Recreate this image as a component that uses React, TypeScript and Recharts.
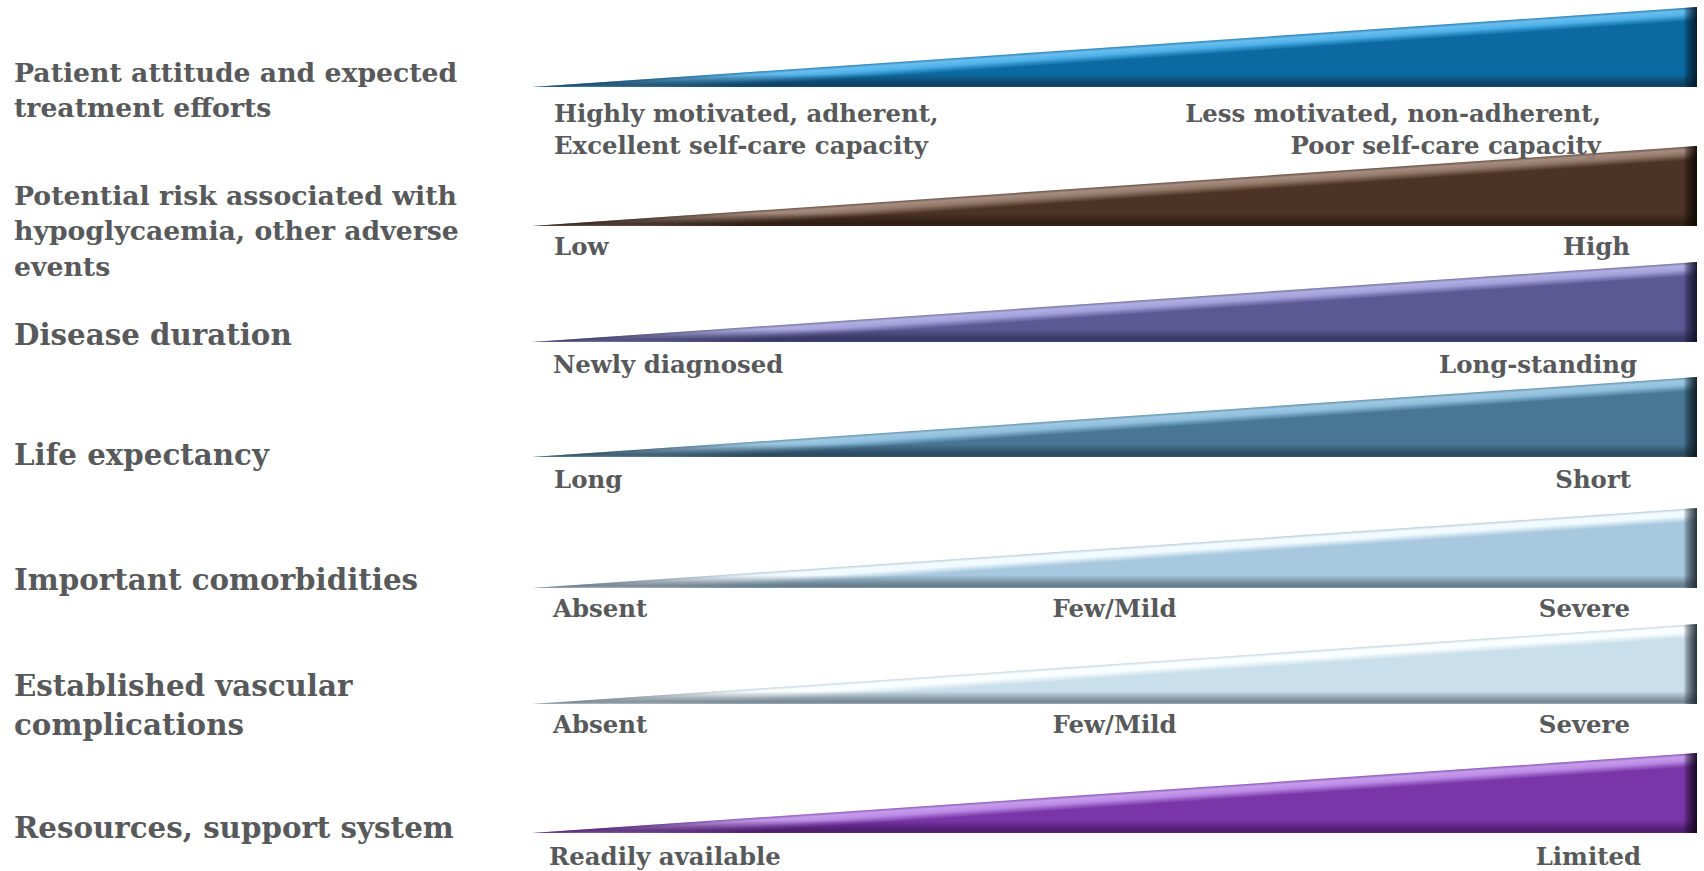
import { AreaChart, Area, XAxis, YAxis } from "recharts";

// factor names shown on the left, one entry per line
const factors = [
  ["Patient attitude and expected", "treatment efforts"],
  ["Potential risk associated with", "hypoglycaemia, other adverse", "events"],
  ["Disease duration"],
  ["Life expectancy"],
  ["Important comorbidities"],
  ["Established vascular", "complications"],
  ["Resources, support system"],
];

const lowLabels = [
  ["Highly motivated, adherent,", "Excellent self-care capacity"],
  ["Low"],
  ["Newly diagnosed"],
  ["Long"],
  ["Absent"],
  ["Absent"],
  ["Readily available"],
];

const midLabels = ["", "", "", "", "Few/Mild", "Few/Mild", ""];

const highLabels = [
  ["Less motivated, non-adherent,", "Poor self-care capacity"],
  ["High"],
  ["Long-standing"],
  ["Short"],
  ["Severe"],
  ["Severe"],
  ["Limited"],
];

// position along each scale and how stringent the approach is there
const scalePos = [0, 1];
const scaleLevel = [0, 1];

const palette = [
  { body: "#0b6aa2", hi: "#4fb2ea", edge: "#2a7fb4", dark: "#12324a", rim: "#03182a" },
  { body: "#4d3325", hi: "#94796a", edge: "#6a5244", dark: "#24160e", rim: "#0f0804" },
  { body: "#5b5893", hi: "#a3a0dc", edge: "#77749f", dark: "#2e2c55", rim: "#12112a" },
  { body: "#477795", hi: "#8ebfdd", edge: "#6592ad", dark: "#22394a", rim: "#0c1922" },
  { body: "#a7c8de", hi: "#f0faff", edge: "#b9ccd8", dark: "#4f6170", rim: "#1f2a33" },
  { body: "#c9dfeb", hi: "#fafeff", edge: "#c7d5de", dark: "#5a6b77", rim: "#1f2a33" },
  { body: "#7a36a8", hi: "#bb8be6", edge: "#8d55b8", dark: "#3e1559", rim: "#14061f" },
];

// layout
const PLOT_LEFT = 532;
const PLOT_RIGHT = 1697;
const WEDGE_H = 80;
const AXIS_H = 74;
const TOP_PAD = 5;
const rowBottom = [87, 226, 342, 457, 588, 704, 833];
const titleCenter = [90, 231, 335, 455, 580, 706, 828];
const titleSize = [26.7, 26.7, 29.3, 29.3, 29.3, 29.3, 29.3];
const lowInset = [22, 22, 21, 22, 21, 21, 17];
const highInset = [96, 67, 60, 66, 67, 67, 56];
const labelGap = [26, 20, 22, 22, 20, 20, 23];

const TEXT = "#58595b";
const FONT = "'DejaVu Serif', Georgia, serif";

function Wedge({ i }: { i: number }) {
  const data = scalePos.map((p, k) => ({ pos: p, level: scaleLevel[k] }));
  const ticks = midLabels[i] ? [0, 0.5, 1] : [0, 1];
  const c = palette[i];

  const renderTick = (props: any) => {
    const { x, y, payload } = props;
    const v = payload.value;
    let lines: string[] = [midLabels[i]];
    let anchor: "start" | "middle" | "end" = "middle";
    let dx = 0;
    if (v === 0) {
      lines = lowLabels[i];
      anchor = "start";
      dx = lowInset[i];
    } else if (v === 1) {
      lines = highLabels[i];
      anchor = "end";
      dx = -highInset[i];
    }
    return (
      <text
        x={x + dx}
        y={y + labelGap[i]}
        textAnchor={anchor}
        dominantBaseline="central"
        fontFamily={FONT}
        fontSize={24.4}
        fontWeight={700}
        fill={TEXT}
      >
        {lines.map((l, k) => (
          <tspan key={k} x={x + dx} dy={k === 0 ? 0 : 31.5}>
            {l}
          </tspan>
        ))}
      </text>
    );
  };

  return (
    <div
      style={{
        position: "absolute",
        left: PLOT_LEFT,
        top: rowBottom[i] - WEDGE_H - TOP_PAD,
      }}
    >
      <AreaChart
        width={1704 - PLOT_LEFT}
        height={TOP_PAD + WEDGE_H + AXIS_H}
        data={data}
        margin={{ top: TOP_PAD, right: 1704 - PLOT_RIGHT, left: 0, bottom: 0 }}
      >
        <defs>
          {/* highlight running parallel to the sloped top edge */}
          <linearGradient id={`top-${i}`} x1="0" y1="0" x2="1" y2="1">
            <stop offset="0.5" stopColor={c.edge} />
            <stop offset="0.518" stopColor={c.hi} stopOpacity={0.85} />
            <stop offset="0.545" stopColor={c.hi} />
            <stop offset="0.585" stopColor={c.body} />
            <stop offset="1" stopColor={c.body} />
          </linearGradient>
          <linearGradient id={`base-${i}`} x1="0" y1="0" x2="0" y2="1">
            <stop offset="0" stopColor={c.dark} stopOpacity={0} />
            <stop offset="0.84" stopColor={c.dark} stopOpacity={0} />
            <stop offset="0.93" stopColor={c.dark} stopOpacity={0.55} />
            <stop offset="0.975" stopColor={c.dark} stopOpacity={0.75} />
            <stop offset="1" stopColor={c.dark} stopOpacity={0.45} />
          </linearGradient>
          {/* dark bevel on the right end */}
          <linearGradient id={`rim-${i}`} x1="0" y1="0" x2="1" y2="0">
            <stop offset="0" stopColor={c.rim} stopOpacity={0} />
            <stop offset="0.9885" stopColor={c.rim} stopOpacity={0} />
            <stop offset="0.9905" stopColor={c.rim} stopOpacity={0.3} />
            <stop offset="0.995" stopColor={c.rim} stopOpacity={0.65} />
            <stop offset="1" stopColor={c.rim} stopOpacity={0.95} />
          </linearGradient>
        </defs>
        <XAxis
          dataKey="pos"
          type="number"
          domain={[0, 1]}
          ticks={ticks}
          height={AXIS_H}
          axisLine={false}
          tickLine={false}
          tickSize={0}
          tickMargin={0}
          interval={0}
          tick={renderTick}
        />
        <YAxis type="number" domain={[0, 1]} hide />
        <Area
          type="linear"
          dataKey="level"
          stroke="none"
          fill={`url(#top-${i})`}
          fillOpacity={1}
          isAnimationActive={false}
        />
        <Area
          type="linear"
          dataKey="level"
          stroke="none"
          fill={`url(#base-${i})`}
          fillOpacity={1}
          isAnimationActive={false}
        />
        <Area
          type="linear"
          dataKey="level"
          stroke="none"
          fill={`url(#rim-${i})`}
          fillOpacity={1}
          isAnimationActive={false}
        />
      </AreaChart>
    </div>
  );
}

export default function App() {
  return (
    <div
      style={{
        position: "absolute",
        left: 0,
        top: 0,
        width: 1704,
        height: 871,
        background: "#fff",
        overflow: "hidden",
      }}
    >
      {factors.map((lines, i) => {
        const lh = titleSize[i] * 1.32;
        return (
          <div
            key={`t${i}`}
            style={{
              position: "absolute",
              left: 14,
              top: titleCenter[i] - (lines.length * lh) / 2,
              fontFamily: FONT,
              fontWeight: 700,
              fontSize: titleSize[i],
              lineHeight: `${lh}px`,
              color: TEXT,
              whiteSpace: "nowrap",
            }}
          >
            {lines.map((l, k) => (
              <div key={k}>{l}</div>
            ))}
          </div>
        );
      })}
      {factors.map((_, i) => (
        <Wedge key={`w${i}`} i={i} />
      ))}
    </div>
  );
}
